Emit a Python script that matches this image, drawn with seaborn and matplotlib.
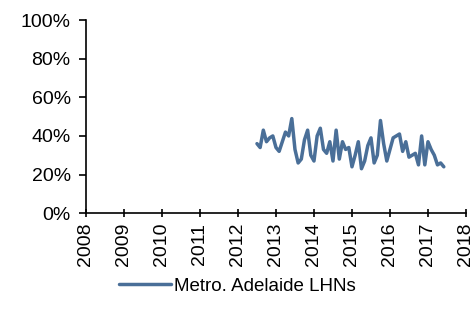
import matplotlib
matplotlib.use("Agg")
import matplotlib.pyplot as plt
import matplotlib.ticker as mtick
import numpy as np
import pandas as pd
import seaborn as sns

# monthly share, Jul 2012 - Jun 2017
series_name = "Metro. Adelaide LHNs"
months = pd.date_range("2012-07-01", periods=60, freq="MS")
share = [36, 34, 43, 37, 39, 40, 34, 32, 37, 42,
         40, 49, 33, 26, 28, 38, 43, 30, 27, 40,
         44, 33, 31, 37, 27, 43, 28, 37, 33, 34,
         24, 30, 37, 23, 27, 35, 39, 26, 30, 48,
         36, 27, 33, 39, 40, 41, 32, 37, 29, 30,
         31, 25, 40, 25, 37, 33, 30, 25, 26, 24]
year_ticks = list(range(2008, 2019))

df = pd.DataFrame({
    "year": months.year + (months.month - 1) / 12,
    "share": np.array(share) / 100,
})

sns.set_style("white")
plt.rcParams["font.family"] = ["Liberation Sans", "DejaVu Sans"]
plt.rcParams["text.color"] = "black"
plt.rcParams["xtick.color"] = "black"
plt.rcParams["ytick.color"] = "black"

fig = plt.figure(figsize=(4.75, 3.2), dpi=100)
ax = fig.add_axes([0.181, 0.334, 0.8, 0.603])

sns.lineplot(data=df, x="year", y="share", ax=ax, color="#4a6f98",
             linewidth=2.5, label=series_name, legend=False)

ax.set_xlim(2008, 2018)
ax.set_ylim(0, 1)
ax.set_xticks(year_ticks)
ax.set_xticklabels([str(y) for y in year_ticks], rotation=90)
ax.set_yticks(np.arange(0, 1.01, 0.2))
ax.yaxis.set_major_formatter(mtick.PercentFormatter(1.0, decimals=0))
ax.set_xlabel("")
ax.set_ylabel("")

for side in ["top", "right"]:
    ax.spines[side].set_visible(False)
for side in ["left", "bottom"]:
    ax.spines[side].set_color("black")
    ax.spines[side].set_linewidth(1.2)

ax.tick_params(axis="y", direction="out", length=5, width=1.2, color="black",
               labelcolor="black", labelsize=14, left=True, pad=6)
ax.tick_params(axis="x", direction="inout", length=6, width=1.2, color="black",
               labelcolor="black", labelsize=14, bottom=True, pad=4)

handles, labels = ax.get_legend_handles_labels()
fig.legend(handles, labels, loc="center", bbox_to_anchor=(0.5, 0.105),
           frameon=False, fontsize=13.5, handlelength=2.8, handletextpad=0.15)

fig.savefig("out.png", dpi=100)
